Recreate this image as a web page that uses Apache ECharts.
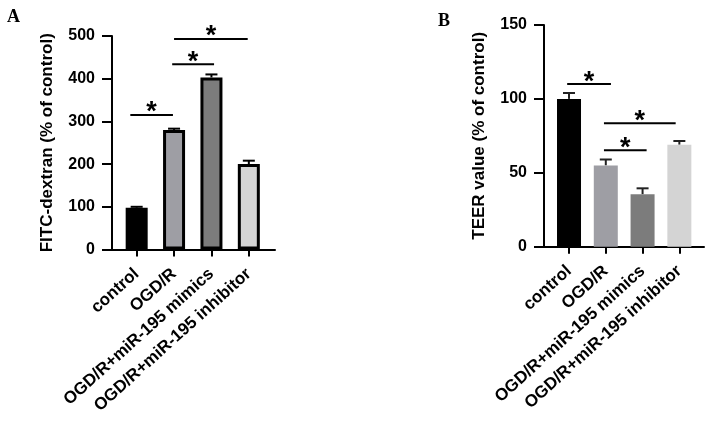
<!DOCTYPE html>
<html>
<head>
<meta charset="utf-8">
<script src="https://cdn.jsdelivr.net/npm/echarts@6/dist/echarts.min.js"></script>
<style>
html, body { margin: 0; padding: 0; background: #fff; }
#main { width: 711px; height: 421px; }
</style>
</head>
<body>
<div id="main"></div>
<script>
// groups on the x axis (same for both panels)
var groups = ['control', 'OGD/R', 'OGD/R+miR-195 mimics', 'OGD/R+miR-195 inhibitor'];
var barColors = ['#000000', '#9e9ea4', '#7c7c7c', '#d4d4d4'];

// panel A - FITC-dextran
var fitcValues = [98, 280, 403, 200];
var fitcErrors = [2, 3, 7, 8];
var fitcTicks = [0, 100, 200, 300, 400, 500];
// significance bars: [from group, to group, height]
var fitcSig = [[-0.17, 0.97, 315], [0.95, 2.07, 434], [1.0, 2.97, 493]];

// panel B - TEER
var teerValues = [100, 55, 35.5, 69];
var teerErrors = [4, 4, 4, 2.5];
var teerTicks = [0, 50, 100, 150];
var teerSig = [[-0.05, 1.14, 110], [0.95, 2.9, 83.5], [0.95, 2.11, 65.3]];

var FONT = '"Liberation Sans", Arial, sans-serif';
var black = '#000';

function xAxisFor(gridIndex, min, max) {
    return {
        type: 'value',
        gridIndex: gridIndex,
        min: min,
        max: max,
        splitLine: { show: false },
        axisLine: { show: true, onZero: false, lineStyle: { color: black, width: 2 } },
        axisTick: { show: true, customValues: [0, 1, 2, 3], length: 7, lineStyle: { color: black, width: 2 } },
        axisLabel: {
            customValues: [0, 1, 2, 3],
            formatter: function (v) { return groups[Math.round(v)]; },
            rotate: 42,
            margin: 22,
            color: black,
            fontWeight: 'bold',
            fontSize: 17,
            fontFamily: FONT
        }
    };
}

function yAxisFor(gridIndex, ticks, name) {
    return {
        type: 'value',
        gridIndex: gridIndex,
        min: ticks[0],
        max: ticks[ticks.length - 1],
        interval: ticks[1] - ticks[0],
        name: name,
        nameLocation: 'middle',
        nameGap: 56,
        nameTextStyle: { color: black, fontWeight: 'bold', fontSize: 17, fontFamily: FONT },
        splitLine: { show: false },
        axisLine: { show: true, onZero: false, lineStyle: { color: black, width: 2 } },
        axisTick: { show: true, length: 10, lineStyle: { color: black, width: 2 } },
        axisLabel: { margin: 17, color: black, fontWeight: 'bold', fontSize: 16, fontFamily: FONT }
    };
}

function barData(values) {
    return values.map(function (v, i) {
        return { value: [i, v], itemStyle: { color: barColors[i] } };
    });
}

function errData(values, errors) {
    return values.map(function (v, i) { return [i, v, errors[i]]; });
}

function errRender(color) {
    return function (params, api) {
        var x = api.value(0), v = api.value(1), e = api.value(2);
        var base = api.coord([x, v]);
        var top = api.coord([x, v + e]);
        return {
            type: 'group',
            children: [
                { type: 'line', shape: { x1: base[0], y1: base[1], x2: top[0], y2: top[1] }, style: { stroke: color, lineWidth: 2 } },
                { type: 'line', shape: { x1: top[0] - 6, y1: top[1], x2: top[0] + 6, y2: top[1] }, style: { stroke: color, lineWidth: 2 } }
            ]
        };
    };
}

function sigRender(params, api) {
    var a = api.coord([api.value(0), api.value(2)]);
    var b = api.coord([api.value(1), api.value(2)]);
    return {
        type: 'group',
        children: [
            { type: 'line', shape: { x1: a[0], y1: a[1], x2: b[0], y2: b[1] }, style: { stroke: black, lineWidth: 2 } },
            {
                type: 'text', x: (a[0] + b[0]) / 2, y: a[1] - 2,
                style: { text: '*', fill: black, font: 'bold 27px ' + FONT, align: 'center', verticalAlign: 'middle' }
            }
        ]
    };
}

var chart = echarts.init(document.getElementById('main'));
window.addEventListener('resize', chart.resize);

chart.setOption({
    animation: false,
    backgroundColor: '#fff',
    grid: [
        { left: 112, top: 36, width: 163, height: 213.5, outerBoundsMode: 'none' },
        { left: 544, top: 25, width: 160, height: 221.7, outerBoundsMode: 'none' }
    ],
    xAxis: [xAxisFor(0, -0.66, 3.70), xAxisFor(1, -0.68, 3.67)],
    yAxis: [
        yAxisFor(0, fitcTicks, 'FITC-dextran (% of control)'),
        yAxisFor(1, teerTicks, 'TEER value (% of control)')
    ],
    graphic: [
        { type: 'text', left: 7, top: 8, style: { text: 'A', font: 'bold 18px "Liberation Serif", serif', fill: black } },
        { type: 'text', left: 438, top: 12, style: { text: 'B', font: 'bold 18px "Liberation Serif", serif', fill: black } }
    ],
    series: [
        {
            type: 'bar', xAxisIndex: 0, yAxisIndex: 0, barWidth: 22,
            itemStyle: { borderColor: black, borderWidth: 3 },
            data: barData(fitcValues)
        },
        {
            type: 'custom', xAxisIndex: 0, yAxisIndex: 0, z: 3,
            renderItem: errRender(black), encode: { x: 0, y: 1 },
            data: errData(fitcValues, fitcErrors)
        },
        {
            type: 'custom', xAxisIndex: 0, yAxisIndex: 0, z: 3,
            renderItem: sigRender, encode: { x: [0, 1], y: 2 },
            data: fitcSig
        },
        {
            type: 'bar', xAxisIndex: 1, yAxisIndex: 1, barWidth: 24,
            data: barData(teerValues)
        },
        {
            type: 'custom', xAxisIndex: 1, yAxisIndex: 1, z: 1,
            renderItem: errRender('#222'), encode: { x: 0, y: 1 },
            data: errData(teerValues, teerErrors)
        },
        {
            type: 'custom', xAxisIndex: 1, yAxisIndex: 1, z: 3,
            renderItem: sigRender, encode: { x: [0, 1], y: 2 },
            data: teerSig
        }
    ]
});
</script>
</body>
</html>
